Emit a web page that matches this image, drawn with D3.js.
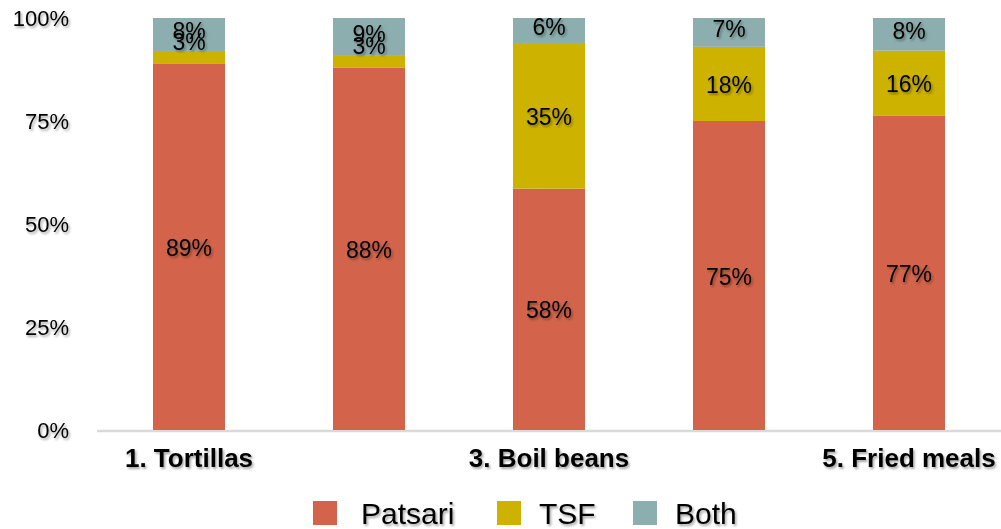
<!DOCTYPE html>
<html>
<head>
<meta charset="utf-8">
<script src="https://cdn.jsdelivr.net/npm/d3@7"></script>
<style>
  html, body { margin: 0; padding: 0; background: #fff; }
  svg { display: block; font-family: "Liberation Sans", Arial, Helvetica, sans-serif; }
</style>
</head>
<body>
<svg id="chart" width="1001" height="529"></svg>
<script>
// Share of cooking tasks by stove used (percent stacked)
const categories = ["1", "2", "3", "4", "5"];
const tickLabels = ["1. Tortillas", "", "3. Boil beans", "", "5. Fried meals"];
const seriesNames = ["Patsari", "TSF", "Both"];
const patsari = [89, 88, 58, 75, 77];
const tsf = [3, 3, 35, 18, 16];
const both = [8, 9, 6, 7, 8];
const yTicks = [0, 0.25, 0.5, 0.75, 1];

const colors = ["#D3644B", "#CDB300", "#8DAEAE"];

const rows = categories.map((c, i) => ({ cat: c, Patsari: patsari[i], TSF: tsf[i], Both: both[i] }));

const svg = d3.select("#chart");

// drop shadow used on all text
const defs = svg.append("defs");
defs.append("filter")
  .attr("id", "txtShadow")
  .attr("x", "-20%").attr("y", "-20%").attr("width", "140%").attr("height", "160%")
  .append("feDropShadow")
  .attr("dx", 1.5).attr("dy", 2).attr("stdDeviation", 1.2)
  .attr("flood-color", "#000").attr("flood-opacity", 0.35);

const x = d3.scaleBand()
  .domain(categories)
  .range([99, 999])
  .paddingInner(0.6)
  .paddingOuter(0.3);

const y = d3.scaleLinear().domain([0, 1]).range([430, 18]);

const stack = d3.stack().keys(seriesNames).offset(d3.stackOffsetExpand);
const layers = stack(rows);

// baseline
svg.append("line")
  .attr("x1", 97).attr("x2", 1001)
  .attr("y1", 431).attr("y2", 431)
  .attr("stroke", "#d9d9d9").attr("stroke-width", 2.5);

// bars
const g = svg.append("g");
g.selectAll("g.layer")
  .data(layers)
  .join("g")
  .attr("class", "layer")
  .attr("fill", (d, i) => colors[i])
  .selectAll("rect")
  .data(d => d)
  .join("rect")
  .attr("x", d => x(d.data.cat))
  .attr("width", x.bandwidth())
  .attr("y", d => y(d[1]))
  .attr("height", d => y(d[0]) - y(d[1]));

// value labels: centred in the segment, or just above it when the segment is too thin
const labels = [];
layers.forEach((layer, li) => {
  layer.forEach(d => {
    const top = y(d[1]), bottom = y(d[0]);
    const h = bottom - top;
    let cy = h < 16 ? top - 9 : (top + bottom) / 2 + 1;
    if (li === layers.length - 1) cy -= 4;
    labels.push({ x: x(d.data.cat) + x.bandwidth() / 2, y: cy, v: d.data[layer.key] });
  });
});
svg.append("g")
  .attr("filter", "url(#txtShadow)")
  .selectAll("text")
  .data(labels)
  .join("text")
  .attr("x", d => d.x)
  .attr("y", d => d.y)
  .attr("text-anchor", "middle")
  .attr("dominant-baseline", "central")
  .attr("font-size", 23)
  .attr("fill", "#000")
  .text(d => d.v + "%");

// y axis
const yAxis = svg.append("g")
  .attr("transform", "translate(97,0)")
  .attr("filter", "url(#txtShadow)")
  .call(d3.axisLeft(y).tickValues(yTicks).tickFormat(d3.format(".0%")).tickSize(0).tickPadding(28));
yAxis.select(".domain").remove();
yAxis.selectAll("text").attr("font-size", 22).attr("fill", "#000").attr("font-family", null);

// x axis
const xAxis = svg.append("g")
  .attr("transform", "translate(0,430)")
  .attr("filter", "url(#txtShadow)")
  .call(d3.axisBottom(x).tickFormat((d, i) => tickLabels[i]).tickSize(0).tickPadding(19));
xAxis.select(".domain").remove();
xAxis.selectAll("text").attr("font-size", 26).attr("font-weight", "bold").attr("fill", "#000").attr("font-family", null);

// legend
const legendX = [313, 497, 633];
const legend = svg.append("g")
  .selectAll("g")
  .data(seriesNames)
  .join("g")
  .attr("transform", (d, i) => `translate(${legendX[i]},501)`);
legend.append("rect")
  .attr("width", 24).attr("height", 24)
  .attr("fill", (d, i) => colors[i]);
legend.append("text")
  .attr("x", (d, i) => i === 0 ? 48 : 42)
  .attr("y", 23)
  .attr("font-size", 30)
  .attr("fill", "#000")
  .attr("filter", "url(#txtShadow)")
  .text(d => d);
</script>
</body>
</html>
